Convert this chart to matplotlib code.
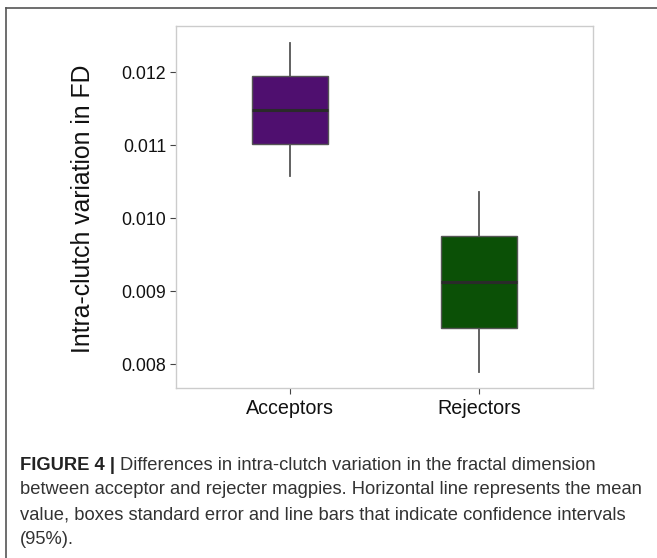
import numpy as np
import matplotlib.pyplot as plt
from matplotlib.lines import Line2D

plt.rcParams['font.family'] = ['Liberation Sans', 'DejaVu Sans']

# --- data: mean, standard error box, 95% CI whiskers ---
groups = ['Acceptors', 'Rejectors']
means = [0.01149, 0.00913]
se_low = [0.01102, 0.00850]
se_high = [0.01195, 0.00976]
ci_low = [0.01058, 0.00790]
ci_high = [0.01240, 0.01036]
fills = ['#4f0f6f', '#0b5006']

yticks = [0.008, 0.009, 0.010, 0.011, 0.012]

W, H = 657, 558
fig = plt.figure(figsize=(W / 100, H / 100), dpi=100)

# outer frame of the figure panel
fig.add_artist(Line2D([6 / W, 6 / W], [0, 1 - 8 / H], color='#555555', lw=1.2))
fig.add_artist(Line2D([6 / W, 1], [1 - 8 / H, 1 - 8 / H], color='#555555', lw=1.2))

ax = fig.add_axes([176 / W, 1 - 388 / H, 417 / W, 362 / H])

stats = []
for i, g in enumerate(groups):
    stats.append(dict(label=g, med=means[i], q1=se_low[i], q3=se_high[i],
                      whislo=ci_low[i], whishi=ci_high[i], fliers=[]))

pos = np.arange(1, len(groups) + 1)
bp = ax.bxp(stats, positions=pos, widths=0.4, patch_artist=True,
            showcaps=False, showfliers=False,
            boxprops=dict(edgecolor='#555555', linewidth=1.0),
            whiskerprops=dict(color='#555555', linewidth=1.3),
            medianprops=dict(color='#2a2a2a', linewidth=2.2))
for box, c in zip(bp['boxes'], fills):
    box.set_facecolor(c)
    box.set_zorder(2)
for w in bp['whiskers']:
    w.set_zorder(1)

ax.set_xlim(0.4, 2.6)
ax.set_ylim(0.007675, 0.012634)
ax.set_yticks(yticks)
ax.set_yticklabels([f'{v:.3f}' for v in yticks])
ax.set_xticks(pos)
ax.set_xticklabels(groups)
ax.tick_params(axis='both', length=4, width=0.8, color='#444444',
               labelsize=12.8, labelcolor='#111111', pad=3)
ax.tick_params(axis='x', labelsize=14.2, pad=4)
for s in ax.spines.values():
    s.set_color('#cccccc')
    s.set_linewidth(1.0)

ax.set_ylabel('Intra-clutch variation in FD', fontsize=17.8, color='#111111', va='center')
ax.yaxis.set_label_coords((83 - 176) / 417, 0.495)

caption = [
    'Differences in intra-clutch variation in the fractal dimension',
    'between acceptor and rejecter magpies. Horizontal line represents the mean',
    'value, boxes standard error and line bars that indicate confidence intervals',
    '(95%).',
]
cap_size = 13.2
x0 = 20 / W
base0 = 470
step = 24.5
t = fig.text(x0, 1 - base0 / H, 'FIGURE 4 | ', fontsize=cap_size, fontweight='bold',
             color='#222222', va='baseline')
fig.canvas.draw()
bb = t.get_window_extent()
fig.text(bb.x1 / fig.bbox.width, 1 - base0 / H, caption[0], fontsize=cap_size,
         color='#333333', va='baseline')
for k, line in enumerate(caption[1:], start=1):
    fig.text(x0, 1 - (base0 + step * k) / H, line, fontsize=cap_size,
             color='#333333', va='baseline')

fig.savefig('out.png', dpi=100)
